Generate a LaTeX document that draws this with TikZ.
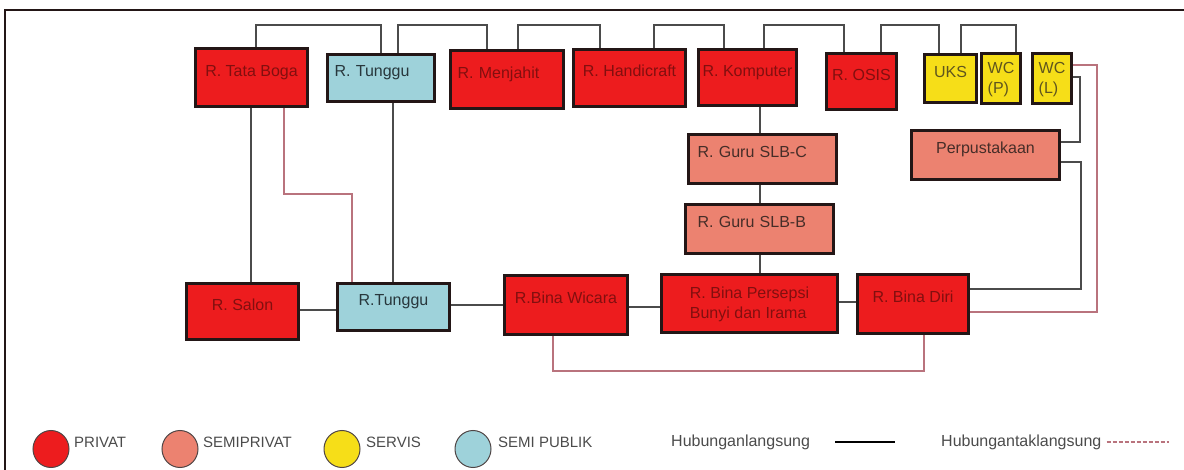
\documentclass[tikz,border=0pt]{standalone}
\usepackage{fontspec}
\setmainfont{Liberation Sans}
\usetikzlibrary{positioning,shapes.geometric}

\definecolor{privat}{RGB}{237,28,30}
\definecolor{semiprivat}{RGB}{236,130,112}
\definecolor{servis}{RGB}{246,222,24}
\definecolor{semipublik}{RGB}{158,210,218}
\definecolor{rim}{RGB}{35,22,22}
\definecolor{lineDark}{RGB}{75,75,75}
\definecolor{linePink}{RGB}{185,115,125}
\definecolor{legendGray}{RGB}{75,75,75}

\begin{document}
\begin{tikzpicture}[x=1pt, y=-1pt, font=\fontsize{16}{20}\selectfont,
  room/.style={draw=rim, line width=3pt, anchor=north west, inner sep=2pt, text height=12pt, text depth=14pt},
  wh/.style 2 args={minimum width=#1pt, minimum height=#2pt},
  kiri/.style 2 args={inner xsep=#1pt, text width=#2pt, align=left},
  twoline/.style={text height=32pt, text depth=1pt, align=left},
  privatroom/.style={room, fill=privat, text={rgb,255:red,130;green,15;blue,15}},
  semiroom/.style={room, fill=semiprivat, text={rgb,255:red,70;green,45;blue,40}},
  servisroom/.style={room, fill=servis, text={rgb,255:red,95;green,85;blue,30}},
  publikroom/.style={room, fill=semipublik, text={rgb,255:red,40;green,55;blue,60}},
  langsung/.style={draw=lineDark, line width=1.5pt},
  taklangsung/.style={draw=linePink, line width=1.5pt},
  legenda/.style={ellipse, draw=rim!80, line width=1pt, minimum width=36pt, minimum height=37pt, inner sep=0pt},
  legendtext/.style={text=legendGray, inner sep=1pt, font=\fontsize{15}{18}\selectfont}]
  \useasboundingbox (0,0) rectangle (1184,470);
  \draw[line width=1.5pt, draw=rim] (5,470) -- (5,10) -- (1184,10);

  % top row
  \node[privatroom, wh={112}{58}] (tataboga) at (194,47) {R. Tata Boga};
  \node[publikroom, wh={107}{47}, kiri={7}{93}] (tunggua) at (326,53) {R. Tunggu};
  \node[privatroom, wh={113}{58}, kiri={7}{99}] (menjahit) at (449,49) {R. Menjahit};
  \node[privatroom, wh={112}{57}] (handicraft) at (572,48) {R. Handicraft};
  \node[privatroom, wh={98}{56}] (komputer) at (697,48) {R. Komputer};
  \node[privatroom, wh={70}{56}] (osis) at (825,52) {R. OSIS};
  \node[servisroom, wh={52}{48}] (uks) at (923,53) {UKS};
  \node[servisroom, twoline, wh={39}{50}] (wcp) at (980,52) {WC\\(P)};
  \node[servisroom, twoline, wh={39}{50}] (wcl) at (1031,52) {WC\\(L)};

  % middle
  \node[semiroom, wh={148}{49}, kiri={9}{130}] (guruc) at (687,133) {R. Guru SLB-C};
  \node[semiroom, wh={148}{49}, kiri={12}{124}] (gurub) at (684,203) {R. Guru SLB-B};
  \node[semiroom, wh={148}{49}] (perpus) at (910,129) {Perpustakaan};

  % bottom row
  \node[privatroom, wh={112}{56}] (salon) at (185,282) {R. Salon};
  \node[publikroom, wh={112}{47}] (tunggub) at (336,282) {R.Tunggu};
  \node[privatroom, wh={123}{59}] (wicara) at (503,274) {R.Bina Wicara};
  \node[privatroom, twoline, wh={176}{58}] (persepsi) at (660,273) {R. Bina Persepsi\\Bunyi dan Irama};
  \node[privatroom, wh={111}{59}] (binadiri) at (856,273) {R. Bina Diri};

  % top links
  \draw[langsung] ([xshift=62pt]tataboga.north west) -- ++(0,-22) -| ([xshift=55pt]tunggua.north west);
  \draw[langsung] ([xshift=72pt]tunggua.north west) -- ++(0,-28) -| ([xshift=38pt]menjahit.north west);
  \draw[langsung] ([xshift=69pt]menjahit.north west) -- ++(0,-24) -| ([xshift=28pt]handicraft.north west);
  \draw[langsung] ([xshift=82pt]handicraft.north west) -- ++(0,-23) -| ([xshift=27pt]komputer.north west);
  \draw[langsung] ([xshift=67pt]komputer.north west) -- ++(0,-23) -| ([xshift=19pt]osis.north west);
  \draw[langsung] ([xshift=56pt]osis.north west) -- ++(0,-27) -| ([xshift=16pt]uks.north west);
  \draw[langsung] ([xshift=38pt]uks.north west) -- ++(0,-28) -| ([xshift=36pt]wcp.north west);

  % vertical links
  \draw[langsung] ([xshift=57pt]tataboga.south west) -- ([xshift=66pt]salon.north west);
  \draw[taklangsung] ([xshift=90pt]tataboga.south west) -- ++(0,86) -| ([xshift=16pt]tunggub.north west);
  \draw[langsung] ([xshift=67pt]tunggua.south west) -- ([xshift=57pt]tunggub.north west);
  \draw[langsung] ([xshift=63pt]komputer.south west) -- ([xshift=73pt]guruc.north west);
  \draw[langsung] ([xshift=73pt]guruc.south west) -- ([xshift=76pt]gurub.north west);
  \draw[langsung] ([xshift=76pt]gurub.south west) -- ([xshift=100pt]persepsi.north west);

  % bottom links
  \draw[langsung] ([yshift=-28pt]salon.north east) -- ([yshift=-28pt]tunggub.north west);
  \draw[langsung] ([yshift=-23pt]tunggub.north east) -- ([yshift=-31pt]wicara.north west);
  \draw[langsung] ([yshift=-33pt]wicara.north east) -- ([yshift=-34pt]persepsi.north west);
  \draw[langsung] ([yshift=-29pt]persepsi.north east) -- ([yshift=-29pt]binadiri.north west);
  \draw[taklangsung] ([xshift=50pt]wicara.south west) -- ++(0,35) -| ([xshift=68pt]binadiri.south west);

  % right side links
  \draw[langsung] ([yshift=-25pt]wcl.north east) -- ++(7,0) |- ([yshift=-13pt]perpus.north east);
  \draw[langsung] ([yshift=-33pt]perpus.north east) -- ++(20,0) |- ([yshift=-16pt]binadiri.north east);
  \draw[taklangsung] ([yshift=-13pt]wcl.north east) -- ++(24,0) |- ([yshift=-39pt]binadiri.north east);

  % legend
  \node[legenda, fill=privat] (lgprivat) at (51,449) {};
  \node[legendtext, anchor=west] (txprivat) at (73,442) {PRIVAT};
  \node[legenda, fill=semiprivat] (lgsemiprivat) at (180,449) {};
  \node[legendtext, anchor=west] (txsemiprivat) at (202,442) {SEMIPRIVAT};
  \node[legenda, fill=servis] (lgservis) at (342,449) {};
  \node[legendtext, anchor=west] (txservis) at (365,442) {SERVIS};
  \node[legenda, fill=semipublik] (lgsemipublik) at (473,449) {};
  \node[legendtext, anchor=west] (txsemipublik) at (497,442) {SEMI PUBLIK};
  \node[legendtext, anchor=west, font=\fontsize{16}{18}\selectfont] (txlangsung) at (670,442) {Hubunganlangsung};
  \draw[draw=black, line width=2.5pt] ([xshift=24pt]txlangsung.east) -- ++(60,0);
  \node[legendtext, anchor=west, font=\fontsize{16}{18}\selectfont] (txtaklangsung) at (940,442) {Hubungantaklangsung};
  \draw[draw=linePink, line width=2pt, dash pattern=on 4pt off 2pt] ([xshift=4pt]txtaklangsung.east) -- ++(62,0);
\end{tikzpicture}
\end{document}
